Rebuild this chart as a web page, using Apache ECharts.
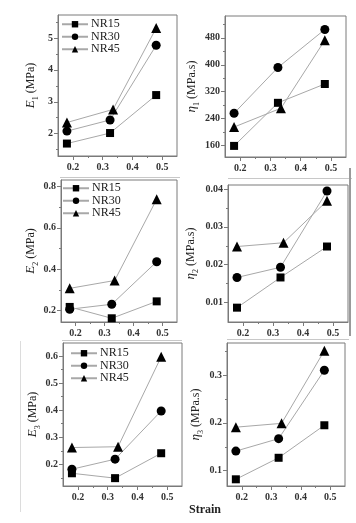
<!DOCTYPE html>
<html><head><meta charset="utf-8">
<script src="https://cdn.jsdelivr.net/npm/echarts@6/dist/echarts.min.js"></script>
<style>html,body{margin:0;padding:0;background:#fff}#c{width:356px;height:523px}</style>
</head><body><div id="c"></div>
<script>
// ---- data ----
const seriesNames = ['NR15', 'NR30', 'NR45'];
const strainNR15 = [0.18, 0.325, 0.48];
const strainNR30 = [0.18, 0.325, 0.48];
const strainNR45 = [0.18, 0.335, 0.48];

const E1_NR15 = [1.69, 2.02, 3.21];
const E1_NR30 = [2.08, 2.43, 4.77];
const E1_NR45 = [2.35, 2.76, 5.31];

const eta1_NR15 = [159, 287, 343];
const eta1_NR30 = [256, 392, 505];
const eta1_NR45 = [215, 271, 473];

const E2_NR15 = [0.217, 0.162, 0.244];
const E2_NR30 = [0.206, 0.230, 0.436];
const E2_NR45 = [0.307, 0.345, 0.739];

const eta2_NR15 = [0.0086, 0.0166, 0.0248];
const eta2_NR30 = [0.0166, 0.0193, 0.0395];
const eta2_NR45 = [0.0248, 0.0258, 0.0369];

const E3_NR15 = [0.167, 0.149, 0.241];
const E3_NR30 = [0.182, 0.219, 0.397];
const E3_NR45 = [0.262, 0.265, 0.597];

const eta3_NR15 = [0.082, 0.127, 0.195];
const eta3_NR30 = [0.141, 0.167, 0.310];
const eta3_NR45 = [0.191, 0.199, 0.351];

// tick labels
const xTicks = [0.2, 0.3, 0.4, 0.5];
const xMinor = [0.25, 0.35, 0.45];
const E1Ticks = [2, 3, 4, 5];
const E1Minor = [1.5, 2.5, 3.5, 4.5, 5.5];
const eta1Ticks = [160, 240, 320, 400, 480];
const eta1Minor = [200, 280, 360, 440, 520];
const E2Ticks = [0.2, 0.4, 0.6, 0.8];
const E2Minor = [0.3, 0.5, 0.7];
const eta2Ticks = [0.01, 0.02, 0.03, 0.04];
const eta2Minor = [0.015, 0.025, 0.035];
const E3Ticks = [0.2, 0.3, 0.4, 0.5, 0.6];
const E3Minor = [0.15, 0.25, 0.35, 0.45, 0.55];
const eta3Ticks = [0.1, 0.2, 0.3];
const eta3Minor = [0.15, 0.25, 0.35];

// ---- layout ----
const FONT = '"Liberation Serif", "DejaVu Serif", serif';
const AX = '#7a7a7a';
const grids = [
  {left: 58, top: 15, width: 119, height: 141},
  {left: 225, top: 16, width: 121, height: 141},
  {left: 61, top: 180, width: 116, height: 142},
  {left: 228, top: 185, width: 120, height: 137},
  {left: 63, top: 343, width: 119, height: 143},
  {left: 227, top: 343, width: 118, height: 143}
];
const yCfg = [
  {min: 1.3, max: 5.72, major: E1Ticks, minor: E1Minor, sym: 'E', sub: '1', unit: ' (MPa)', gap: 18},
  {min: 126, max: 545, major: eta1Ticks, minor: eta1Minor, sym: 'η', sub: '1', unit: ' (MPa.s)', gap: 22},
  {min: 0.144, max: 0.832, major: E2Ticks, minor: E2Minor, sym: 'E', sub: '2', unit: ' (MPa)', gap: 20},
  {min: 0.0048, max: 0.0411, major: eta2Ticks, minor: eta2Minor, sym: 'η', sub: '2', unit: ' (MPa.s)', gap: 28},
  {min: 0.12, max: 0.648, major: E3Ticks, minor: E3Minor, sym: 'E', sub: '3', unit: ' (MPa)', gap: 20},
  {min: 0.068, max: 0.367, major: eta3Ticks, minor: eta3Minor, sym: 'η', sub: '3', unit: ' (MPa.s)', gap: 22}
];
const panelData = [
  [E1_NR15, E1_NR30, E1_NR45],
  [eta1_NR15, eta1_NR30, eta1_NR45],
  [E2_NR15, E2_NR30, E2_NR45],
  [eta2_NR15, eta2_NR30, eta2_NR45],
  [E3_NR15, E3_NR30, E3_NR45],
  [eta3_NR15, eta3_NR30, eta3_NR45]
];
const strains = [strainNR15, strainNR30, strainNR45];
const symbols = ['rect', 'circle', 'triangle'];
const symSizes = [8, 9, 10];

const xAxis = [], yAxis = [], series = [];
grids.forEach((g, gi) => {
  const yc = yCfg[gi];
  xAxis.push({
    type: 'value', gridIndex: gi, min: 0.15, max: 0.55, position: 'bottom',
    axisLine: {show: true, lineStyle: {color: AX, width: 1}},
    axisTick: {show: true, customValues: xTicks, length: 4, lineStyle: {color: AX}},
    axisLabel: {customValues: xTicks, fontSize: 10, color: '#333', fontFamily: FONT, fontWeight: 'bold', margin: 6},
    splitLine: {show: false}
  });
  xAxis.push({
    type: 'value', gridIndex: gi, min: 0.15, max: 0.55, position: 'bottom',
    axisLine: {show: false},
    axisTick: {show: true, customValues: xMinor, length: 2, lineStyle: {color: AX}},
    axisLabel: {show: false}, splitLine: {show: false}
  });
  yAxis.push({
    type: 'value', gridIndex: gi, min: yc.min, max: yc.max, position: 'left',
    axisLine: {show: true, lineStyle: {color: AX, width: 1}},
    axisTick: {show: true, customValues: yc.major, length: 4, lineStyle: {color: AX}},
    axisLabel: {customValues: yc.major, fontSize: 10, color: '#333', fontFamily: FONT, fontWeight: 'bold', margin: 5},
    splitLine: {show: false},
    name: '{i|' + yc.sym + '}{s|' + yc.sub + '}{u|' + yc.unit + '}',
    nameLocation: 'middle', nameRotate: 90, nameGap: yc.gap,
    nameTextStyle: {
      color: '#222', fontFamily: FONT,
      rich: {
        i: {fontStyle: 'italic', fontSize: 13, fontFamily: FONT, color: '#222', verticalAlign: 'bottom', padding: [0, 0, 3, 0]},
        s: {fontSize: 8, fontFamily: FONT, color: '#222', verticalAlign: 'bottom'},
        u: {fontSize: 12, fontFamily: FONT, color: '#222', verticalAlign: 'bottom', padding: [0, 0, 3, 0]}
      }
    }
  });
  yAxis.push({
    type: 'value', gridIndex: gi, min: yc.min, max: yc.max, position: 'left',
    axisLine: {show: false},
    axisTick: {show: true, customValues: yc.minor, length: 2, lineStyle: {color: AX}},
    axisLabel: {show: false}, splitLine: {show: false}
  });
  panelData[gi].forEach((vals, si) => {
    series.push({
      type: 'line', name: seriesNames[si],
      xAxisIndex: gi * 2, yAxisIndex: gi * 2,
      data: vals.map((v, k) => [strains[si][k], v]),
      symbol: symbols[si], symbolSize: symSizes[si],
      itemStyle: {color: '#000'},
      lineStyle: {color: '#a8a8a8', width: 1},
      emphasis: {disabled: true},
      animation: false, z: 3 + si
    });
  });
});

const legendBase = {
  orient: 'vertical', data: seriesNames, itemWidth: 26, itemHeight: 8, itemGap: 0,
  textStyle: {fontFamily: FONT, fontSize: 12, color: '#222', padding: [0, 0, 0, -2], lineHeight: 12.5},
  padding: 0, selectedMode: false
};
const legends = [
  Object.assign({}, legendBase, {left: 61, top: 18}),
  Object.assign({}, legendBase, {left: 62, top: 182}),
  Object.assign({}, legendBase, {left: 70, top: 347})
];

const frameLine = (x1, y1, x2, y2, c, w) => ({type: 'line', silent: true, z: 0,
  shape: {x1, y1, x2, y2}, style: {stroke: c, lineWidth: w}});

const chart = echarts.init(document.getElementById('c'), null, {renderer: 'canvas'});
chart.setOption({
  backgroundColor: '#fff',
  animation: false,
  textStyle: {fontFamily: FONT},
  grid: grids.map(g => Object.assign({show: true, borderColor: AX, borderWidth: 1, backgroundColor: 'transparent', outerBoundsMode: 'none'}, g)),
  legend: legends,
  xAxis: xAxis, yAxis: yAxis, series: series,
  graphic: [
    frameLine(60, 177.5, 180, 177.5, '#c8c8c8', 1),
    frameLine(228, 178.5, 352, 178.5, '#c8c8c8', 1),
    frameLine(62, 340.5, 182, 340.5, '#c8c8c8', 1),
    frameLine(227, 339.5, 349, 339.5, '#c8c8c8', 1),
    frameLine(350, 168, 350, 336, '#9a9a9a', 2),
    frameLine(20.5, 341, 20.5, 512, '#dcdcdc', 1),
    {type: 'text', left: 189, top: 504, style: {text: 'Strain', fontFamily: FONT, fontSize: 12, fontWeight: 'bold', fill: '#222'}}
  ]
});
</script></body></html>
